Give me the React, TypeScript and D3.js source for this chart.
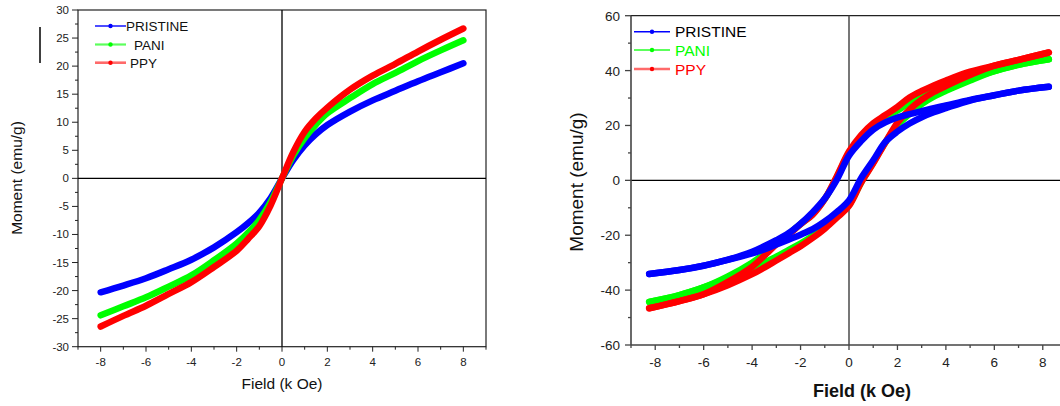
import React from "react";
import * as d3 from "d3";

// ---------- Left chart data (field in k Oe, moment in emu/g) ----------
const leftFields = [-8, -7, -6, -5, -4, -3, -2, -1.5, -1, -0.5, 0, 0.5, 1, 1.5, 2, 3, 4, 5, 6, 7, 8];
const leftPristine = [-20.3, -19.1, -17.8, -16.2, -14.5, -12.3, -9.6, -8.0, -6.1, -3.5, 0, 3.3, 5.9, 7.9, 9.5, 11.9, 13.9, 15.6, 17.3, 18.9, 20.5];
const leftPani = [-24.4, -22.8, -21.2, -19.3, -17.3, -14.6, -11.6, -9.7, -7.4, -4.2, 0, 4.1, 7.2, 9.6, 11.6, 14.3, 16.8, 18.8, 20.9, 22.8, 24.6];
const leftPpy = [-26.4, -24.5, -22.7, -20.6, -18.5, -15.8, -12.9, -10.8, -8.5, -4.8, 0, 4.7, 8.3, 10.7, 12.6, 15.8, 18.3, 20.4, 22.6, 24.7, 26.7];

// ---------- Right chart data (hysteresis loops) ----------
const rightFields = [-8.25, -7, -6, -5, -4, -3.5, -3, -2.5, -2, -1.5, -1, -0.5, 0, 0.5, 1, 1.5, 2, 2.5, 3, 3.5, 4, 5, 6, 7, 8.25];
const pristineUpper = [-34.1, -32.7, -31.1, -28.9, -26.0, -24.0, -21.8, -19.3, -15.8, -11.6, -6.6, 0.3, 9.0, 14.3, 18.5, 21.1, 22.9, 24.1, 25.2, 26.3, 27.3, 29.3, 31.0, 32.7, 34.1];
const pristineLower = [-34.1, -32.7, -31.1, -29.0, -26.6, -25.2, -23.4, -21.6, -19.8, -17.8, -15.0, -11.5, -7.3, 0.8, 7.3, 14.0, 17.8, 20.7, 23.0, 24.8, 26.3, 29.1, 31.0, 32.7, 34.1];
const paniUpper = [-44.3, -41.8, -39.0, -35.0, -30.0, -26.8, -23.0, -19.6, -15.9, -12.3, -6.8, 1.2, 10.0, 15.5, 19.8, 22.8, 25.5, 28.2, 30.6, 32.6, 34.3, 37.2, 39.8, 42.1, 44.1];
const paniLower = [-44.3, -41.8, -39.0, -35.6, -32.0, -30.0, -27.8, -25.4, -23.0, -20.3, -17.0, -13.2, -9.0, -0.8, 6.5, 13.8, 20.0, 24.2, 27.8, 30.5, 32.6, 36.4, 39.8, 42.1, 44.1];
const ppyUpper = [-46.6, -44.0, -41.5, -37.0, -31.5, -27.5, -23.3, -19.8, -16.0, -12.5, -6.8, 1.5, 10.5, 16.5, 20.8, 23.8, 26.8, 30.2, 32.6, 34.6, 36.4, 39.6, 41.8, 43.9, 46.6];
const ppyLower = [-46.6, -44.0, -41.5, -38.2, -34.2, -31.8, -29.2, -26.6, -24.0, -21.0, -17.6, -13.6, -9.3, -0.8, 6.2, 13.8, 21.0, 25.8, 29.4, 32.2, 34.4, 38.4, 41.8, 43.9, 46.6];

const seriesNames = ["PRISTINE", "PANI", "PPY"];
const seriesColors = ["#0000ff", "#00ff00", "#ff0000"];

const leftXTicks = [-8, -6, -4, -2, 0, 2, 4, 6, 8];
const leftXMinor = [-9, -7, -5, -3, -1, 1, 3, 5, 7, 9];
const leftYTicks = [-30, -25, -20, -15, -10, -5, 0, 5, 10, 15, 20, 25, 30];
const leftYMinor = [-27.5, -22.5, -17.5, -12.5, -7.5, -2.5, 2.5, 7.5, 12.5, 17.5, 22.5, 27.5];
const rightXTicks = [-8, -6, -4, -2, 0, 2, 4, 6, 8];
const rightXMinor = [-9, -7, -5, -3, -1, 1, 3, 5, 7, 9];
const rightYTicks = [-60, -40, -20, 0, 20, 40, 60];
const rightYMinor = [-50, -30, -10, 10, 30, 50];

const FONT = "'Liberation Sans', Arial, sans-serif";

type Pt = [number, number];

export default function App() {
  // ----- Left scales -----
  const lx = d3.scaleLinear().domain([-9, 9]).range([78, 486]);
  const ly = d3.scaleLinear().domain([-30, 30]).range([346.7, 10]);
  const lineL = d3
    .line<Pt>()
    .x((d) => lx(d[0]))
    .y((d) => ly(d[1]))
    .curve(d3.curveCatmullRom.alpha(0.5));
  const leftSeries = [leftPristine, leftPani, leftPpy].map((vals) =>
    leftFields.map((f, i) => [f, vals[i]] as Pt)
  );

  // ----- Right scales -----
  const rx = d3.scaleLinear().domain([-9, 9]).range([631, 1067]);
  const ry = d3.scaleLinear().domain([-60, 60]).range([345, 15.7]);
  const lineR = d3
    .line<Pt>()
    .x((d) => rx(d[0]))
    .y((d) => ry(d[1]))
    .curve(d3.curveCatmullRom.alpha(0.5));
  const loops = [
    [pristineUpper, pristineLower],
    [paniUpper, paniLower],
    [ppyUpper, ppyLower],
  ].map(([up, lo]) => {
    const upper = rightFields.map((f, i) => [f, up[i]] as Pt).reverse();
    const lower = rightFields.map((f, i) => [f, lo[i]] as Pt);
    return { upper, lower };
  });
  const rightOrder = [1, 2, 0]; // green, red, blue on top

  const leftLegendY = [26, 44.5, 62.7];
  const leftLegendTextX = [126, 134, 130];
  const rightLegendY = [31.7, 50, 69];
  const rightLegendText = ["#000000", "#00ff00", "#ff0000"];
  const legendLineColorsL = ["#0000ff", "#5cff5c", "#ff6a6a"];
  const legendLineW = [1.4, 2.2, 2.6];

  return (
    <svg
      width={1060}
      height={406}
      style={{ position: "absolute", left: 0, top: 0, background: "#fff" }}
      fontFamily={FONT}
    >
      <rect x={0} y={0} width={1060} height={406} fill="#fff" />

      {/* ================= LEFT CHART ================= */}
      <g>
        {/* stray mark */}
        <line x1={40} x2={40} y1={27} y2={63} stroke="#000" strokeWidth={1.5} />
        {/* frame */}
        <rect x={lx(-9)} y={ly(30)} width={lx(9) - lx(-9)} height={ly(-30) - ly(30)} fill="none" stroke="#222" strokeWidth={1.2} />
        {/* zero lines */}
        <line x1={lx(-9)} x2={lx(9)} y1={ly(0)} y2={ly(0)} stroke="#000" strokeWidth={1.2} />
        <line x1={lx(0)} x2={lx(0)} y1={ly(30)} y2={ly(-30)} stroke="#000" strokeWidth={1.3} />
        {/* x ticks */}
        {leftXTicks.map((t) => (
          <g key={"lxt" + t}>
            <line x1={lx(t)} x2={lx(t)} y1={ly(-30)} y2={ly(-30) + 5} stroke="#222" />
            <text x={lx(t)} y={366} fontSize={11.5} textAnchor="middle" fill="#222">{t}</text>
          </g>
        ))}
        {leftXMinor.map((t) => (
          <line key={"lxm" + t} x1={lx(t)} x2={lx(t)} y1={ly(-30)} y2={ly(-30) + 3} stroke="#222" />
        ))}
        {/* y ticks */}
        {leftYTicks.map((t) => (
          <g key={"lyt" + t}>
            <line x1={lx(-9) - 6} x2={lx(-9)} y1={ly(t)} y2={ly(t)} stroke="#222" />
            <text x={69} y={ly(t) + 4} fontSize={11.5} textAnchor="end" fill="#222">{t}</text>
          </g>
        ))}
        {leftYMinor.map((t) => (
          <line key={"lym" + t} x1={lx(-9) - 3} x2={lx(-9)} y1={ly(t)} y2={ly(t)} stroke="#222" />
        ))}
        {/* axis labels */}
        <text x={282} y={389} fontSize={15.5} textAnchor="middle" fill="#111">Field (k Oe)</text>
        <text transform={`translate(22,178) rotate(-90)`} fontSize={15.5} textAnchor="middle" fill="#111">Moment (emu/g)</text>
        {/* curves */}
        {leftSeries.map((pts, i) => (
          <path key={"ls" + i} d={lineL(pts) || ""} fill="none" stroke={seriesColors[i]} strokeWidth={6.5} strokeLinecap="round" strokeLinejoin="round" />
        ))}
        {/* legend */}
        {seriesNames.map((n, i) => (
          <g key={"ll" + n}>
            <line x1={95} x2={126} y1={leftLegendY[i]} y2={leftLegendY[i]} stroke={legendLineColorsL[i]} strokeWidth={legendLineW[i]} />
            <circle cx={110.5} cy={leftLegendY[i]} r={2.2} fill={seriesColors[i]} />
            <text x={leftLegendTextX[i]} y={leftLegendY[i] + 5} fontSize={13.5} fill="#111">{n}</text>
          </g>
        ))}
      </g>

      {/* ================= RIGHT CHART ================= */}
      <g>
        {/* top border */}
        <line x1={rx(-9)} x2={1067} y1={ry(60)} y2={ry(60)} stroke="#222" strokeWidth={1.2} />
        {/* zero lines */}
        <line x1={rx(-9)} x2={1067} y1={ry(0)} y2={ry(0)} stroke="#000" strokeWidth={1.2} />
        <line x1={rx(0)} x2={rx(0)} y1={ry(60)} y2={ry(-60)} stroke="#555" strokeWidth={1.6} />
        {/* axes */}
        <line x1={rx(-9)} x2={rx(-9)} y1={ry(60)} y2={ry(-60)} stroke="#444" strokeWidth={1.6} />
        <line x1={rx(-9)} x2={1067} y1={ry(-60)} y2={ry(-60)} stroke="#444" strokeWidth={1.6} />
        {rightXTicks.map((t) => (
          <g key={"rxt" + t}>
            <line x1={rx(t)} x2={rx(t)} y1={ry(-60)} y2={ry(-60) + 5} stroke="#444" strokeWidth={1.3} />
            <text x={rx(t)} y={367} fontSize={13.5} textAnchor="middle" fill="#222">{t}</text>
          </g>
        ))}
        {rightXMinor.map((t) => (
          <line key={"rxm" + t} x1={rx(t)} x2={rx(t)} y1={ry(-60)} y2={ry(-60) + 3} stroke="#444" strokeWidth={1.3} />
        ))}
        {rightYTicks.map((t) => (
          <g key={"ryt" + t}>
            <line x1={rx(-9) - 6} x2={rx(-9)} y1={ry(t)} y2={ry(t)} stroke="#444" strokeWidth={1.3} />
            <text x={620} y={ry(t) + 5} fontSize={13.5} textAnchor="end" fill="#222">{t}</text>
          </g>
        ))}
        {rightYMinor.map((t) => (
          <line key={"rym" + t} x1={rx(-9) - 3} x2={rx(-9)} y1={ry(t)} y2={ry(t)} stroke="#444" strokeWidth={1.3} />
        ))}
        <text x={862} y={397} fontSize={18} fontWeight="bold" textAnchor="middle" fill="#111">Field (k Oe)</text>
        <text transform={`translate(583,182) rotate(-90)`} fontSize={19} textAnchor="middle" fill="#111">Moment (emu/g)</text>
        {/* loops */}
        {rightOrder.map((i) => (
          <g key={"rl" + i}>
            <path d={lineR(loops[i].upper) || ""} fill="none" stroke={seriesColors[i]} strokeWidth={6.5} strokeLinecap="round" strokeLinejoin="round" />
            <path d={lineR(loops[i].lower) || ""} fill="none" stroke={seriesColors[i]} strokeWidth={6.5} strokeLinecap="round" strokeLinejoin="round" />
          </g>
        ))}
        {/* legend */}
        {seriesNames.map((n, i) => (
          <g key={"rlg" + n}>
            <line x1={634} x2={670} y1={rightLegendY[i]} y2={rightLegendY[i]} stroke={legendLineColorsL[i]} strokeWidth={legendLineW[i]} />
            <circle cx={652} cy={rightLegendY[i]} r={2.2} fill={seriesColors[i]} />
            <text x={675} y={rightLegendY[i] + 5.5} fontSize={15.5} fill={rightLegendText[i]}>{n}</text>
          </g>
        ))}
      </g>
    </svg>
  );
}
